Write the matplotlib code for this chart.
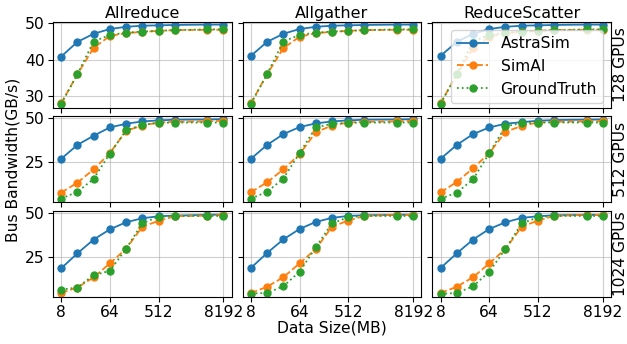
import matplotlib
matplotlib.use("Agg")
import matplotlib.pyplot as plt

data_sizes = [8, 16, 32, 64, 128, 256, 512, 1024, 4096, 8192]
x_ticks = [8, 64, 512, 8192]
collectives = ["Allreduce", "Allgather", "ReduceScatter"]
gpu_rows = ["128 GPUs", "512 GPUs", "1024 GPUs"]
series_names = ["AstraSim", "SimAI", "GroundTruth"]

# 128 GPUs
astrasim_128_allreduce = [40.8, 44.8, 47.0, 48.3, 48.9, 49.2, 49.3, 49.4, 49.5, 49.5]
simai_128_allreduce = [28.1, 36.0, 43.2, 46.4, 47.2, 47.5, 47.8, 48.0, 48.1, 48.1]
gt_128_allreduce = [28.0, 36.0, 44.9, 46.7, 47.3, 47.6, 47.8, 48.0, 48.2, 48.2]
astrasim_128_allgather = [41.0, 44.8, 47.0, 48.3, 48.9, 49.2, 49.3, 49.4, 49.5, 49.5]
simai_128_allgather = [28.1, 36.0, 43.1, 46.2, 47.2, 47.5, 47.8, 48.0, 48.1, 48.1]
gt_128_allgather = [28.0, 36.0, 44.9, 46.7, 47.3, 47.6, 47.8, 48.0, 48.2, 48.2]
astrasim_128_reducescatter = [41.0, 44.8, 47.0, 48.3, 48.9, 49.2, 49.3, 49.4, 49.5, 49.5]
simai_128_reducescatter = [28.1, 36.0, 43.1, 46.2, 47.2, 47.5, 47.8, 48.0, 48.1, 48.1]
gt_128_reducescatter = [28.0, 36.0, 44.9, 46.7, 47.3, 47.6, 47.8, 48.0, 48.2, 48.2]

# 512 GPUs
astrasim_512_allreduce = [26.9, 34.8, 40.0, 44.7, 46.8, 48.1, 48.7, 49.1, 49.2, 49.4]
simai_512_allreduce = [7.8, 13.4, 21.0, 30.1, 42.8, 45.8, 47.5, 47.9, 48.1, 48.5]
gt_512_allreduce = [4.4, 8.3, 15.5, 29.9, 43.0, 46.2, 47.3, 47.5, 47.5, 47.5]
astrasim_512_allgather = [26.9, 34.8, 40.9, 44.9, 47.0, 48.1, 48.7, 49.1, 49.2, 49.4]
simai_512_allgather = [8.1, 13.6, 21.0, 29.5, 42.0, 45.8, 47.5, 47.9, 48.1, 48.5]
gt_512_allgather = [4.4, 8.3, 15.7, 30.1, 44.7, 46.8, 47.3, 47.5, 47.5, 47.5]
astrasim_512_reducescatter = [26.9, 34.8, 40.9, 44.7, 46.8, 47.7, 48.5, 48.9, 49.1, 49.2]
simai_512_reducescatter = [8.0, 13.8, 21.6, 30.1, 42.2, 45.6, 47.5, 47.9, 48.1, 48.3]
gt_512_reducescatter = [4.4, 7.8, 15.3, 30.1, 45.3, 47.2, 47.5, 47.5, 47.5, 47.5]

# 1024 GPUs
astrasim_1024_allreduce = [18.4, 26.9, 34.7, 40.5, 44.5, 46.8, 47.9, 48.3, 48.7, 48.9]
simai_1024_allreduce = [4.5, 7.6, 13.3, 21.2, 29.5, 42.0, 45.3, 47.9, 48.3, 48.7]
gt_1024_allreduce = [6.4, 7.6, 14.6, 17.0, 29.5, 43.9, 47.7, 48.1, 48.1, 48.1]
astrasim_1024_allgather = [18.6, 27.1, 34.8, 40.7, 44.7, 47.0, 48.1, 48.5, 48.7, 48.9]
simai_1024_allgather = [4.5, 8.0, 13.4, 21.2, 29.4, 42.0, 45.5, 48.1, 48.7, 48.7]
gt_1024_allgather = [4.2, 4.5, 8.3, 16.5, 30.3, 43.9, 47.3, 48.1, 48.1, 48.1]
astrasim_1024_reducescatter = [18.6, 26.9, 34.7, 40.7, 44.5, 47.0, 47.9, 48.5, 48.7, 48.7]
simai_1024_reducescatter = [4.5, 8.0, 13.4, 21.2, 29.4, 42.0, 45.5, 48.1, 48.7, 48.7]
gt_1024_reducescatter = [4.0, 4.5, 8.3, 16.5, 29.4, 43.9, 47.3, 48.1, 48.1, 48.1]

panels = [
    [(astrasim_128_allreduce, simai_128_allreduce, gt_128_allreduce),
     (astrasim_128_allgather, simai_128_allgather, gt_128_allgather),
     (astrasim_128_reducescatter, simai_128_reducescatter, gt_128_reducescatter)],
    [(astrasim_512_allreduce, simai_512_allreduce, gt_512_allreduce),
     (astrasim_512_allgather, simai_512_allgather, gt_512_allgather),
     (astrasim_512_reducescatter, simai_512_reducescatter, gt_512_reducescatter)],
    [(astrasim_1024_allreduce, simai_1024_allreduce, gt_1024_allreduce),
     (astrasim_1024_allgather, simai_1024_allgather, gt_1024_allgather),
     (astrasim_1024_reducescatter, simai_1024_reducescatter, gt_1024_reducescatter)],
]

colors = ["#1f77b4", "#ff7f0e", "#2ca02c"]
styles = ["-", "--", ":"]
row_ylims = [(26.9, 50.2), (2.3, 50.9), (2.3, 50.9)]
row_yticks = [[30, 40, 50], [25, 50], [25, 50]]

FS = 11.2
fig, axes = plt.subplots(3, 3, figsize=(6.27, 3.44), dpi=100, sharex=True)
fig.subplots_adjust(left=0.0845, right=0.9745, top=0.936, bottom=0.137,
                    wspace=0.062, hspace=0.1)

for r in range(3):
    for c in range(3):
        ax = axes[r][c]
        for s in range(3):
            ax.plot(data_sizes, panels[r][c][s], linestyle=styles[s], marker="o",
                    color=colors[s], markersize=5, linewidth=1.3, label=series_names[s])
        ax.set_xscale("log", base=2)
        ax.set_xticks(x_ticks)
        ax.set_xticklabels([str(t) for t in x_ticks])
        ax.minorticks_off()
        ax.set_ylim(*row_ylims[r])
        ax.set_yticks(row_yticks[r])
        ax.grid(True, color="#b0b0b0", alpha=0.6, linewidth=0.8)
        ax.tick_params(labelsize=FS, pad=2.5)
        if c > 0:
            ax.set_yticklabels([])
        if r < 2:
            ax.tick_params(labelbottom=False)
        if r == 0:
            ax.set_title(collectives[c], fontsize=11.5, pad=3)
        if c == 2:
            ax.text(1.012, 0.5, gpu_rows[r], transform=ax.transAxes, rotation=90,
                    va="center", ha="left", fontsize=FS)

axes[0][2].legend(loc="upper right", fontsize=FS)

fig.text(13.5 / 627, 1 - 159.5 / 344, "Bus Bandwidth(GB/s)", rotation=90,
         va="center", ha="center", fontsize=FS)
fig.text(332 / 627, 1 - 328 / 344, "Data Size(MB)", va="center", ha="center", fontsize=FS)

fig.savefig("out.png", dpi=100)
